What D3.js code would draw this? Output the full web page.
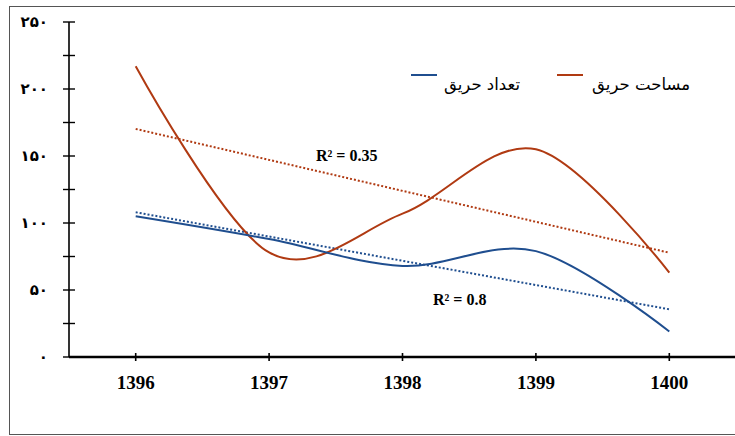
<!DOCTYPE html>
<html>
<head>
<meta charset="utf-8">
<script src="https://cdn.jsdelivr.net/npm/d3@7"></script>
<style>
  body { margin: 0; background: #fff; }
</style>
</head>
<body>
<div id="chart"></div>
<script>
var years = [1396, 1397, 1398, 1399, 1400];
var fireCount = [105, 88, 68, 79, 19];     // تعداد حریق
var fireArea = [217, 78, 107, 155, 63];    // مساحت حریق
var yTicks = [0, 50, 100, 150, 200, 250];
var yTickLabels = ["۰", "۵۰", "۱۰۰", "۱۵۰", "۲۰۰", "۲۵۰"];
var seriesNames = ["تعداد حریق", "مساحت حریق"];
var r2Labels = ["R² = 0.8", "R² = 0.35"];

var width = 735, height = 436;
var blue = "#1f4e8f", red = "#b03a12";

var svg = d3.select("#chart").append("svg")
  .attr("width", width).attr("height", height);

// outer frame
svg.append("rect")
  .attr("x", 9.5).attr("y", 6.5)
  .attr("width", 740).attr("height", 428)
  .attr("fill", "none").attr("stroke", "#555").attr("stroke-width", 1);

var x = d3.scaleLinear().domain([1395.5, 1400.5]).range([69, 736]);
var y = d3.scaleLinear().domain([0, 250]).range([357, 22]);

// y axis
var yAxis = svg.append("g").attr("transform", "translate(69,0)");
yAxis.append("line").attr("y1", y(250)).attr("y2", y(0))
  .attr("stroke", "#000").attr("stroke-width", 1.6);
yAxis.selectAll(".tk").data(d3.range(0, 251, 25)).enter().append("line")
  .attr("x1", -6).attr("x2", 6)
  .attr("y1", function(d) { return y(d); }).attr("y2", function(d) { return y(d); })
  .attr("stroke", "#000").attr("stroke-width", 1.4);
yAxis.selectAll("text").data(yTicks).enter().append("text")
  .attr("x", -21).attr("y", function(d) { return y(d) + 5; })
  .attr("text-anchor", "end")
  .style("font-family", "DejaVu Sans")
  .style("font-weight", "bold").style("font-size", "15px")
  .text(function(d, i) { return yTickLabels[i]; });

// x axis
var xAxis = svg.append("g");
xAxis.append("line").attr("x1", 69).attr("x2", 735)
  .attr("y1", y(0)).attr("y2", y(0))
  .attr("stroke", "#000").attr("stroke-width", 2.6);
xAxis.selectAll(".tk").data(years).enter().append("line")
  .attr("x1", function(d) { return x(d); }).attr("x2", function(d) { return x(d); })
  .attr("y1", y(0) - 4).attr("y2", y(0) + 4)
  .attr("stroke", "#000").attr("stroke-width", 1.6);
xAxis.selectAll("text").data(years).enter().append("text")
  .attr("x", function(d) { return x(d); }).attr("y", 389)
  .attr("text-anchor", "middle")
  .style("font-family", "Liberation Serif")
  .style("font-weight", "bold").style("font-size", "19px")
  .text(function(d) { return d; });

// linear trend (least squares)
function trend(vals) {
  var n = vals.length, mx = d3.mean(years), my = d3.mean(vals);
  var sxy = 0, sxx = 0;
  years.forEach(function(t, i) { sxy += (t - mx) * (vals[i] - my); sxx += (t - mx) * (t - mx); });
  var b = sxy / sxx, a = my - b * mx;
  return [years[0], years[n - 1]].map(function(t) { return [t, a + b * t]; });
}

var line = d3.line()
  .x(function(d) { return x(d[0]); })
  .y(function(d) { return y(d[1]); })
  .curve(d3.curveCardinal.tension(0));
var straight = d3.line()
  .x(function(d) { return x(d[0]); })
  .y(function(d) { return y(d[1]); });

[[fireArea, red], [fireCount, blue]].forEach(function(s) {
  svg.append("path").attr("d", straight(trend(s[0])))
    .attr("fill", "none").attr("stroke", s[1])
    .attr("stroke-width", 2).attr("stroke-dasharray", "2,2");
});
[[fireArea, red], [fireCount, blue]].forEach(function(s) {
  svg.append("path")
    .attr("d", line(years.map(function(t, i) { return [t, s[0][i]]; })))
    .attr("fill", "none").attr("stroke", s[1]).attr("stroke-width", 2);
});

// R² labels
svg.append("text").attr("x", 316).attr("y", 161)
  .style("font-family", "Liberation Serif").style("font-weight", "bold")
  .style("font-size", "16px").text(r2Labels[1]);
svg.append("text").attr("x", 433).attr("y", 305)
  .style("font-family", "Liberation Serif").style("font-weight", "bold")
  .style("font-size", "16px").text(r2Labels[0]);

// legend
var legend = [
  { name: seriesNames[0], color: blue, lx: 411, tx: 520 },
  { name: seriesNames[1], color: red, lx: 557, tx: 690 }
];
legend.forEach(function(d) {
  svg.append("line").attr("x1", d.lx).attr("x2", d.lx + 26)
    .attr("y1", 75).attr("y2", 75)
    .attr("stroke", d.color).attr("stroke-width", 2);
  svg.append("text").attr("x", d.tx).attr("y", 90)
    .attr("text-anchor", "end")
    .style("font-family", "DejaVu Sans").style("font-size", "16.5px")
    .text(d.name);
});
</script>
</body>
</html>
